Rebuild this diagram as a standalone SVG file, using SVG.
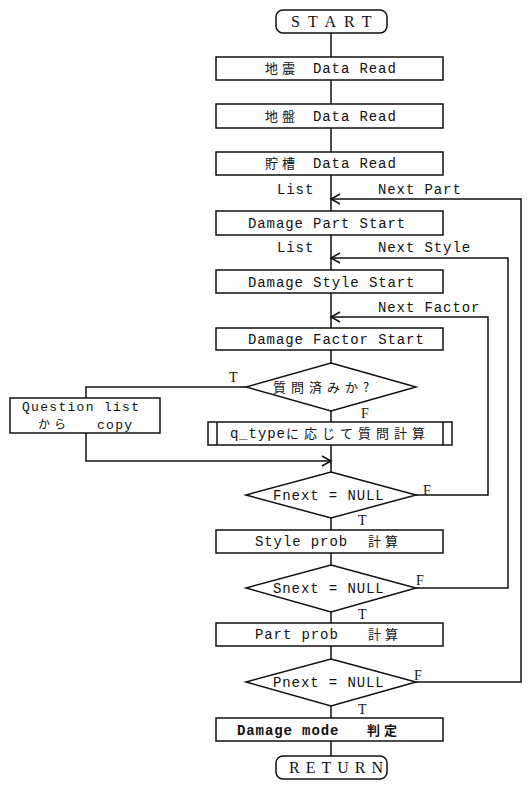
<svg xmlns="http://www.w3.org/2000/svg" width="529" height="788" viewBox="0 0 529 788">
<style>
.b{fill:#fff;stroke:#111;stroke-width:1.5}
.c{fill:none;stroke:#111;stroke-width:1.5}
.m{font-family:"Liberation Mono","Noto Sans CJK JP",monospace;font-size:14px;letter-spacing:0.9px;fill:#111}
.j{font-family:"Noto Sans CJK JP",sans-serif;font-size:13px;letter-spacing:4px;fill:#111}
.s{font-family:"Liberation Serif",serif;font-size:14px;fill:#111}
.t{font-family:"Liberation Serif",serif;font-size:16px;letter-spacing:8px;fill:#111}
</style>
<defs>
<marker id="ah" viewBox="-10 -6 12 12" refX="0" refY="0" markerWidth="12" markerHeight="12" markerUnits="userSpaceOnUse" orient="auto" overflow="visible">
<path d="M-9,-5 L0,0 L-9,5" fill="none" stroke="#111" stroke-width="1.5"/>
</marker>
</defs>
<rect width="529" height="788" fill="#fff"/>
<g id="connectors">
<line class="c" x1="331" y1="33" x2="331" y2="57"/>
<line class="c" x1="331" y1="80" x2="331" y2="104"/>
<line class="c" x1="331" y1="128" x2="331" y2="152"/>
<line class="c" x1="331" y1="175" x2="331" y2="211"/>
<line class="c" x1="331" y1="235" x2="331" y2="270"/>
<line class="c" x1="331" y1="293" x2="331" y2="328"/>
<line class="c" x1="331" y1="350" x2="331" y2="363"/>
<line class="c" x1="331" y1="411" x2="331" y2="422"/>
<line class="c" x1="331" y1="445" x2="331" y2="472"/>
<line class="c" x1="331" y1="518" x2="331" y2="530"/>
<line class="c" x1="331" y1="553" x2="331" y2="565"/>
<line class="c" x1="331" y1="612" x2="331" y2="623"/>
<line class="c" x1="331" y1="646" x2="331" y2="659"/>
<line class="c" x1="331" y1="706" x2="331" y2="718"/>
<line class="c" x1="331" y1="741" x2="331" y2="756"/>
<polyline class="c" points="246,387 86,387 86,398"/>
<polyline class="c" points="86,433 86,461 331,461" marker-end="url(#ah)"/>
<polyline class="c" points="416,495 488,495 488,317 331,317" marker-end="url(#ah)"/>
<polyline class="c" points="416,588 508,588 508,258 331,258" marker-end="url(#ah)"/>
<polyline class="c" points="416,682 521,682 521,199 331,199" marker-end="url(#ah)"/>
<text class="m" x="277" y="194">List</text>
<text class="m" x="378" y="194">Next Part</text>
<text class="m" x="277" y="252">List</text>
<text class="m" x="378" y="252">Next Style</text>
<text class="m" x="378" y="312">Next Factor</text>
<text class="s" x="229" y="382">T</text>
<text class="s" x="361" y="418">F</text>
<text class="s" x="423" y="495">F</text>
<text class="s" x="358" y="525">T</text>
<text class="s" x="416" y="585">F</text>
<text class="s" x="358" y="619">T</text>
<text class="s" x="414" y="680">F</text>
<text class="s" x="358" y="714">T</text>
</g>
<g id="start">
<rect class="b" x="276" y="10" width="111" height="23" rx="7"/>
<text class="t" x="291" y="27">START</text>
</g>
<g id="read1">
<rect class="b" x="216" y="57" width="227" height="23"/>
<text class="m" y="73"><tspan class="j" x="265">地震</tspan><tspan x="313">Data Read</tspan></text>
</g>
<g id="read2">
<rect class="b" x="216" y="104" width="227" height="24"/>
<text class="m" y="121"><tspan class="j" x="265">地盤</tspan><tspan x="313">Data Read</tspan></text>
</g>
<g id="read3">
<rect class="b" x="216" y="152" width="227" height="23"/>
<text class="m" y="168"><tspan class="j" x="265">貯槽</tspan><tspan x="313">Data Read</tspan></text>
</g>
<g id="partstart">
<rect class="b" x="216" y="211" width="227" height="24"/>
<text class="m" x="248" y="228">Damage Part Start</text>
</g>
<g id="stylestart">
<rect class="b" x="216" y="270" width="227" height="23"/>
<text class="m" x="248" y="287">Damage Style Start</text>
</g>
<g id="factorstart">
<rect class="b" x="216" y="328" width="227" height="22"/>
<text class="m" x="248" y="344">Damage Factor Start</text>
</g>
<g id="asked">
<polygon class="b" points="331,363 416,387 331,411 246,387"/>
<text class="j" x="273" y="392" style="letter-spacing:5px">質問済みか?</text>
</g>
<g id="qlist">
<rect class="b" x="10" y="398" width="150" height="35"/>
<text class="m" x="22" y="411" style="font-size:13px;letter-spacing:1.3px">Question list</text>
<text class="m" y="429" style="font-size:13px;letter-spacing:1.3px"><tspan class="j" x="38" style="font-size:12px">から</tspan><tspan x="97">copy</tspan></text>
</g>
<g id="qcalc">
<rect class="b" x="208" y="422" width="244" height="23"/>
<line class="c" x1="217" y1="422" x2="217" y2="445"/>
<line class="c" x1="443" y1="422" x2="443" y2="445"/>
<text class="m" y="438"><tspan x="230">q_type</tspan><tspan class="j" x="286" style="letter-spacing:5px">に応じて質問計算</tspan></text>
</g>
<g id="fnext">
<polygon class="b" points="331,472 416,495 331,518 246,495"/>
<text class="m" x="273" y="500">Fnext = NULL</text>
</g>
<g id="styleprob">
<rect class="b" x="216" y="530" width="227" height="23"/>
<text class="m" y="546"><tspan x="255">Style prob</tspan><tspan class="j" x="368">計算</tspan></text>
</g>
<g id="snext">
<polygon class="b" points="331,565 416,588 331,612 246,588"/>
<text class="m" x="273" y="593">Snext = NULL</text>
</g>
<g id="partprob">
<rect class="b" x="216" y="623" width="227" height="23"/>
<text class="m" y="639"><tspan x="255">Part prob</tspan><tspan class="j" x="368">計算</tspan></text>
</g>
<g id="pnext">
<polygon class="b" points="331,659 416,682 331,706 246,682"/>
<text class="m" x="273" y="687">Pnext = NULL</text>
</g>
<g id="mode">
<rect class="b" x="216" y="718" width="227" height="23"/>
<text class="m" y="735" font-weight="bold"><tspan x="237">Damage mode</tspan><tspan class="j" x="367" font-weight="bold">判定</tspan></text>
</g>
<g id="return">
<rect class="b" x="276" y="756" width="111" height="23" rx="7"/>
<text class="t" x="289" y="773" style="letter-spacing:6px">RETURN</text>
</g>
</svg>
